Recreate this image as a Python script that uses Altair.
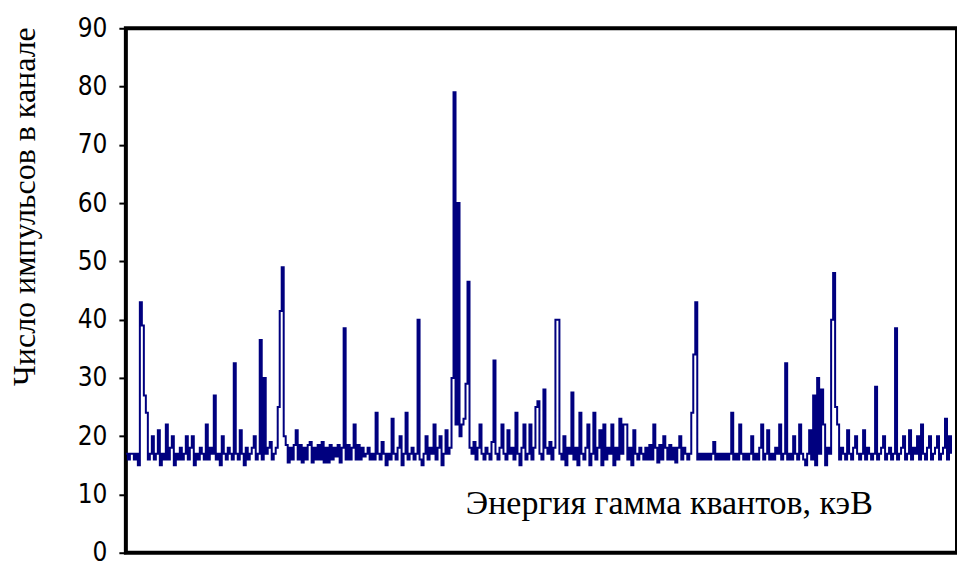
import altair as alt
import pandas as pd

# Counts per channel (~2 px per channel)
counts = [
    17, 16, 17, 17, 16, 17, 15, 43, 39, 27, 24, 16, 17, 20, 16, 17, 21, 15, 17, 16,
    22, 16, 18, 20, 15, 17, 16, 18, 16, 17, 20, 16, 18, 20, 15, 17, 16, 18, 17, 16,
    22, 16, 18, 17, 27, 16, 17, 15, 20, 17, 16, 18, 17, 16, 32.5, 17, 16, 21, 17, 15,
    18, 16, 17, 18, 20, 16, 17, 36.5, 16, 30, 17, 18, 19, 16, 17, 18, 25, 41.5, 49, 20,
    18.5, 15.5, 18, 16, 18.5, 21, 16, 18.5, 15.5, 18, 16, 18.5, 19, 15.5, 18, 16, 18.5, 16, 19, 15.5,
    18, 15.5, 18.5, 16, 18, 16.5, 18.5, 15.5, 18, 38.5, 16, 18.5, 16, 18, 22, 16, 18.5, 16, 18, 16.5,
    17, 18, 16, 17, 16, 24, 17, 16, 19, 17, 15, 17, 16, 23, 17, 16, 18, 20, 15, 17,
    24, 16, 17, 18, 16, 17, 40, 16, 15, 17, 20, 16, 18, 17, 22, 16, 18, 20, 15, 17,
    21, 17, 18, 30, 79, 22, 60, 20, 22, 23, 29, 46.5, 18, 17, 19, 16, 18, 22, 17, 16,
    18, 17, 16, 19, 33, 17, 16, 18, 22, 17, 16, 21, 17, 18, 16, 24, 17, 15, 18, 22,
    16, 17, 22, 16, 18, 25, 26, 17, 16, 28, 18, 17, 19, 16, 18, 40, 40, 17, 16, 20,
    15, 18, 17, 27.5, 16, 18, 15, 24, 17, 16, 18, 22, 15, 17, 24, 16, 18, 21, 15, 22,
    16, 18, 17, 22, 15, 18, 16, 23, 17, 22, 22, 16, 18, 15, 21, 17, 16, 18, 17, 16,
    18, 16, 18.5, 16, 22, 18, 15.5, 18.5, 16, 20, 18, 16, 18.5, 16, 18, 15.5, 18, 20, 16, 18,
    17, 16, 17, 24, 34, 43, 16, 17, 16, 17, 16, 17, 16, 17, 19, 16, 17, 16, 17, 16,
    17, 16, 17, 24, 16, 17, 16, 22, 17, 16, 17, 16, 17, 20, 16, 17, 16, 18, 22, 16,
    17, 21, 16, 17, 16, 18, 17, 22, 16, 17, 32.5, 16, 17, 16, 20, 17, 16, 22, 17, 16,
    15, 17, 21, 16, 27, 15, 30, 17, 28, 22, 15, 18, 17, 40, 48, 25, 22, 16, 18, 17,
    16, 21, 17, 16, 18, 20, 17, 16, 17, 21, 16, 18, 17, 16, 17, 28.5, 16, 17, 18, 20,
    16, 17, 18, 16, 17, 38.5, 16, 17, 18, 20, 16, 17, 21, 16, 18, 17, 20, 16, 22, 17,
    16, 18, 20, 16, 17, 18, 20, 16, 17, 18, 23, 16, 20, 17,
]
channels = list(range(len(counts)))

y_ticks = [0, 10, 20, 30, 40, 50, 60, 70, 80, 90]
y_title = "Число импульсов в канале"
x_label = ["Энергия гамма квантов, кэВ"]
x_label_pos = [272]
y_label_pos = [6.6]

df = pd.DataFrame({"ch": channels, "n": counts})
lab = pd.DataFrame({"t": x_label, "x": x_label_pos, "y": y_label_pos})

xs = alt.Scale(domain=[0, 416], nice=False, zero=False)
ys = alt.Scale(domain=[0, 90], nice=False)

line = alt.Chart(df).mark_line(
    color="#00007f", strokeWidth=2, interpolate="step-after", clip=True
).encode(
    x=alt.X("ch:Q", scale=xs, axis=None),
    y=alt.Y(
        "n:Q",
        scale=ys,
        axis=alt.Axis(
            values=y_ticks,
            title=y_title,
            titleFont="Liberation Serif",
            titleFontSize=32,
            titleFontWeight="normal",
            titleColor="black",
            titleAngle=-90,
            titleX=-101,
            titleY=178,
            titleAlign="center",
            titleBaseline="middle",
            labelFont="DejaVu Sans Condensed, Liberation Sans Narrow, Liberation Sans",
            labelFontSize=26,
            labelColor="black",
            labelPadding=12,
            tickColor="black",
            tickWidth=2,
            tickSize=7,
            domain=False,
            grid=False,
        ),
    ),
)

text = alt.Chart(lab).mark_text(
    font="Liberation Serif", fontSize=34, color="black",
    align="center", baseline="alphabetic"
).encode(
    x=alt.X("x:Q", scale=xs),
    y=alt.Y("y:Q", scale=ys),
    text="t:N",
)

chart = (line + text).properties(
    width=832,
    height=525,
    autosize=alt.AutoSizeParams(type="none"),
    padding={"left": 126, "top": 28, "right": 0, "bottom": 13},
    background="white",
).configure_view(stroke="black", strokeWidth=4)

chart.save("out.html", embed_options={"renderer": "svg", "actions": False})
